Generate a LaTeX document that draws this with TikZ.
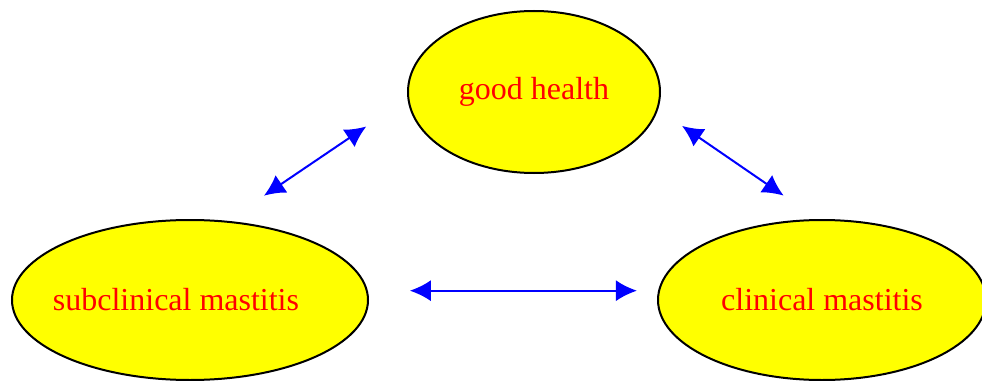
\documentclass[tikz,border=0pt]{standalone}
\usepackage{tikz}
\usepackage{xcolor}
\usepackage{fontspec}
\setmainfont{Liberation Serif}
\usetikzlibrary{shapes.geometric, arrows.meta, positioning, calc}
\definecolor{statefill}{RGB}{255,255,0}
\definecolor{statetext}{RGB}{255,0,0}
\definecolor{linkblue}{RGB}{0,0,255}

\begin{document}
\begin{tikzpicture}[every node/.style={font=\fontsize{27.3}{32}\selectfont},
  state/.style={ellipse, draw=black, line width=0.06cm, fill=statefill, text=statetext, inner sep=0pt, minimum height=4.8cm},
  link/.style={linkblue, line width=0.06cm, {Latex[length=0.63cm, width=0.63cm]}-{Latex[length=0.63cm, width=0.63cm]}}]
\useasboundingbox (0,0) rectangle (29.46,-11.43);

% States
\node[state, minimum width=7.56cm, minimum height=4.86cm] (good) at (16.02,-2.76) {good health};
\node[state, minimum width=10.68cm] (sub) at (5.70,-9.00) {\makebox[0pt]{subclinical mastitis\hspace*{0.84cm}}};
\node[state, minimum width=9.84cm] (clin) at (24.66,-9.00) {clinical mastitis};

% Transitions
\draw[link, shorten <=1.34cm, shorten >=1.49cm] (sub.65) -- (good.183);
\draw[link, shorten <=0.87cm, shorten >=1.24cm] (good.352) -- (clin.93);
\draw[link, shorten <=1.26cm, shorten >=0.63cm] (sub.3) -- (clin.177 |- sub.3);
\end{tikzpicture}
\end{document}
